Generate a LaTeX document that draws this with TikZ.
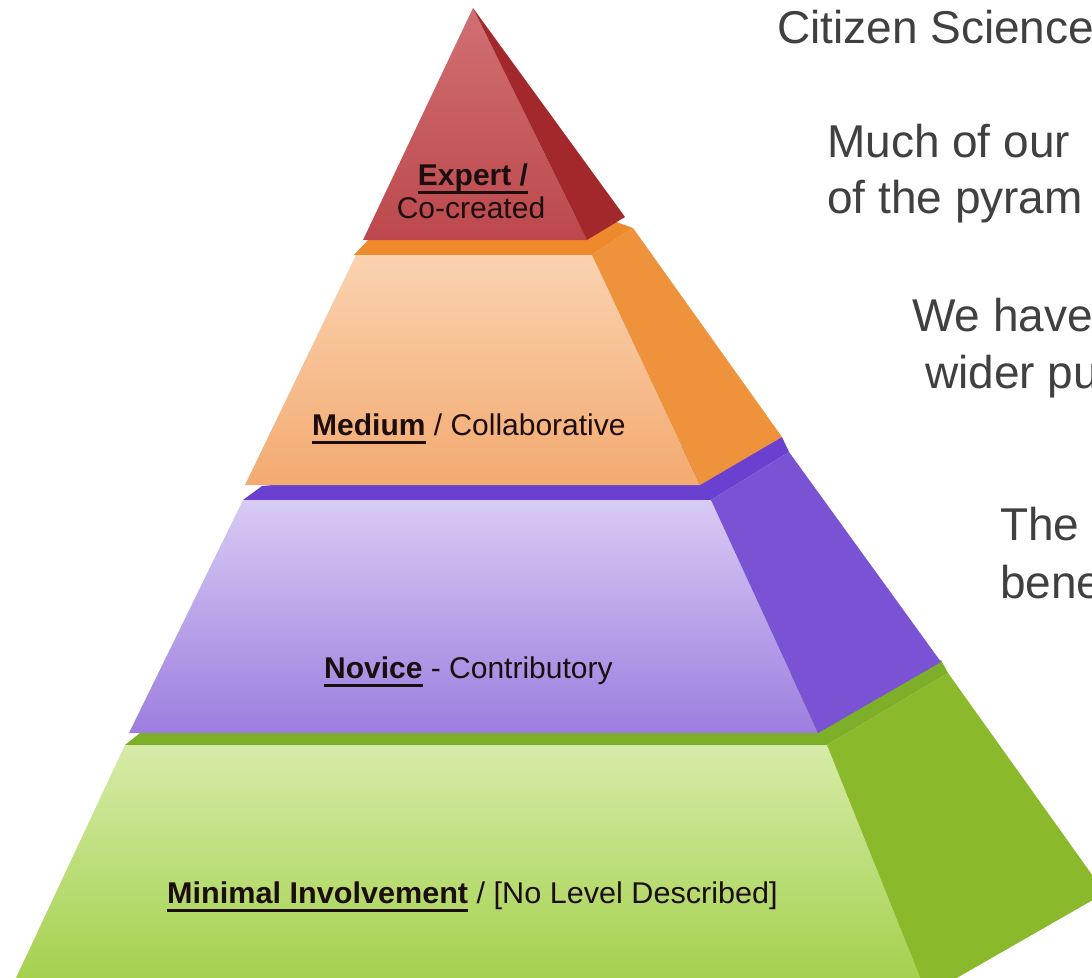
\documentclass[tikz,border=0pt]{standalone}
\usepackage{fontspec}
\setmainfont{Liberation Sans}
\definecolor{labeltext}{HTML}{1C0E0E}
\definecolor{graytext}{HTML}{404040}
\definecolor{redtop}{HTML}{D07073}
\definecolor{redbot}{HTML}{BC484C}
\definecolor{redside}{HTML}{A3282C}
\definecolor{orband}{HTML}{EF8A2C}
\definecolor{ortop}{HTML}{FAD2B0}
\definecolor{orbot}{HTML}{F3AA70}
\definecolor{orside}{HTML}{EF923C}
\definecolor{puband}{HTML}{6A40D0}
\definecolor{putop}{HTML}{D8CBF4}
\definecolor{pubot}{HTML}{9C7EDF}
\definecolor{puside}{HTML}{7A53D5}
\definecolor{grband}{HTML}{7DAF28}
\definecolor{grtop}{HTML}{D6EBA8}
\definecolor{grbot}{HTML}{A1CF48}
\definecolor{grside}{HTML}{8BB92C}
\newcommand\ulbold[1]{\setbox0\hbox{\bfseries #1}\rlap{\color{labeltext}\rule[-8.5pt]{\wd0}{3pt}}\box0\relax}
\begin{document}
\begin{tikzpicture}[x=1pt,y=-1pt,
  lbl/.style={font=\fontsize{30}{34}\selectfont, text=labeltext, inner sep=0pt},
  rtext/.style={font=\fontsize{46}{52}\selectfont, text=graytext, inner sep=0pt, anchor=base west}]
\useasboundingbox (0,0) rectangle (1092,977);
\fill[white] (0,0) rectangle (1092,977);
\clip (0,0) rectangle (1092,977);
% green layer
\fill[grband] (125,745) -- (827,745) -- (948,673) -- (941,660) -- (140,733) -- cycle;
\shade[top color=grtop, bottom color=grbot] (125,745) -- (827,745) -- (927,995) -- (8,995) -- cycle;
\fill[grside] (827,745) -- (948,673) -- (1105,893) -- (927,995) -- cycle;
% purple layer
\fill[puband] (243,500) -- (711,500) -- (789,452) -- (782,437) -- (262,486) -- cycle;
\shade[top color=putop, bottom color=pubot] (243,500) -- (711,500) -- (818,733) -- (129,733) -- cycle;
\fill[puside] (711,500) -- (789,452) -- (941,662) -- (818,733) -- cycle;
% orange layer
\fill[orband] (354,255) -- (592,255) -- (633,228) -- (600,216) -- (370,238) -- cycle;
\shade[top color=ortop, bottom color=orbot] (356,255) -- (592,255) -- (700,485) -- (245,485) -- cycle;
\fill[orside] (592,255) -- (633,228) -- (782,437) -- (700,485) -- cycle;
% red layer
\shade[top color=redtop, bottom color=redbot] (473,8) -- (587,240) -- (363,240) -- cycle;
\fill[redside] (473,8) -- (625,217) -- (587,240) -- cycle;
% labels
\node[lbl, anchor=base] (expert) at (473,185) {\ulbold{Expert /}};
\node[lbl, anchor=base] (cocreated) at (471,218) {Co-created};
\node[lbl, anchor=base west] (medium) at (312,435) {\ulbold{Medium} / Collaborative};
\node[lbl, anchor=base west] (novice) at (324,678) {\ulbold{Novice} - Contributory};
\node[lbl, anchor=base west, xscale=1.02] (minimal) at (167,903) {\ulbold{Minimal Involvement} / [No Level Described]};
% right-hand text
\node[rtext] (t1) at (777,43) {Citizen Science};
\node[rtext] (t2) at (827,157) {Much of our};
\node[rtext] (t3) at (827,213) {of the pyram};
\node[rtext] (t4) at (912,331) {We have};
\node[rtext] (t5) at (925,388) {wider pu};
\node[rtext] (t6) at (1000,540) {The};
\node[rtext] (t7) at (1000,598) {bene};
\end{tikzpicture}
\end{document}
